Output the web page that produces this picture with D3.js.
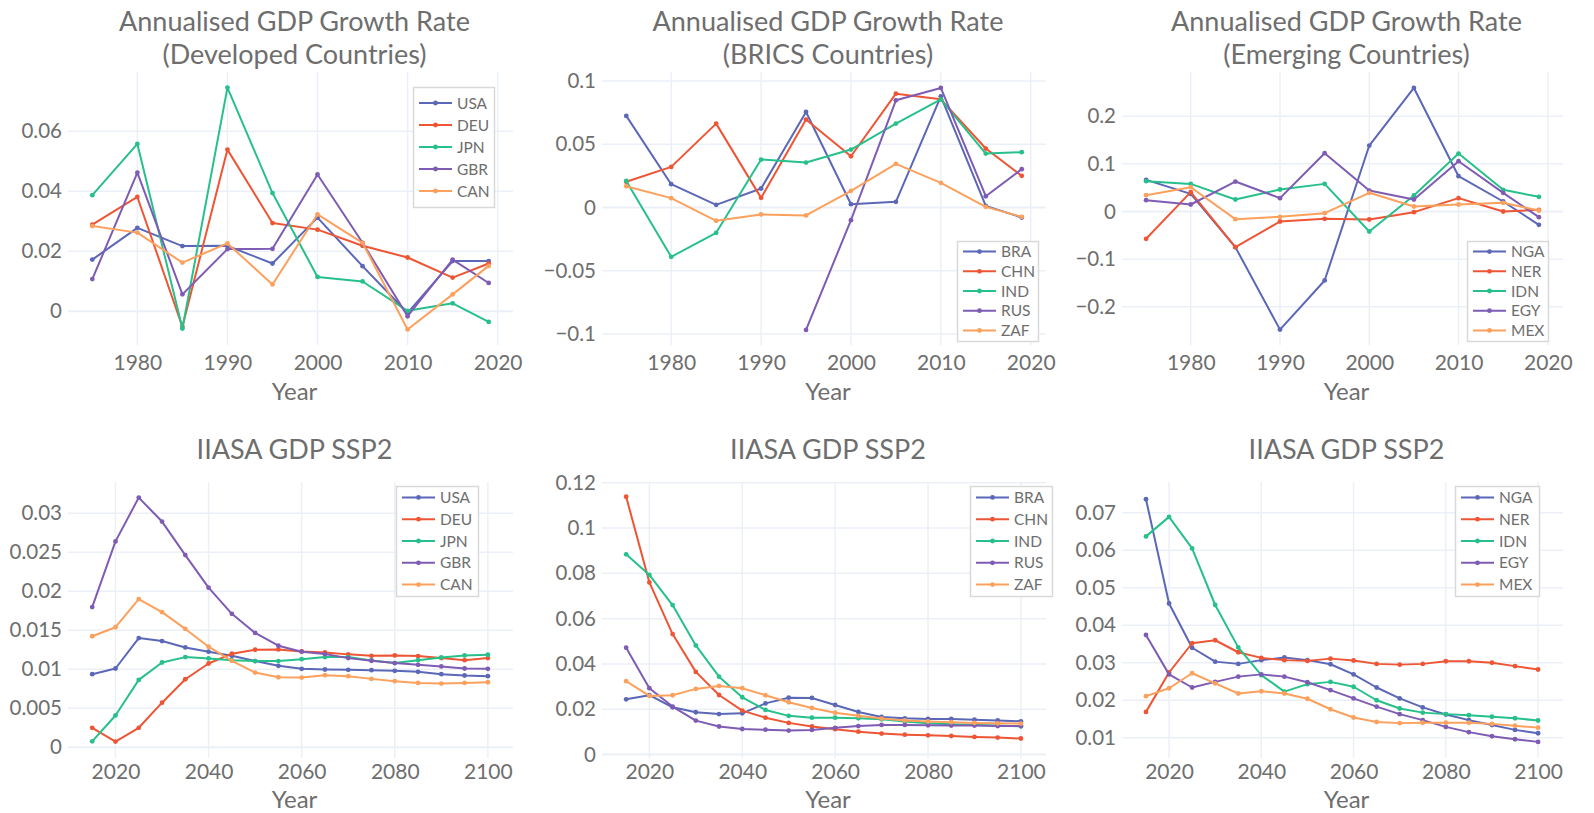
<!DOCTYPE html>
<html>
<head>
<meta charset="utf-8">
<script src="https://cdn.jsdelivr.net/npm/d3@7"></script>
<style>
  body { margin: 0; background: #fff; }
  svg { display: block; font-family: Lato, "Noto Sans", sans-serif; }
</style>
</head>
<body>
<div id="chart"></div>
<script>
// ---- data ----
const histYears = [1975, 1980, 1985, 1990, 1995, 2000, 2005, 2010, 2015, 2019];
const sspYears = [2015, 2020, 2025, 2030, 2035, 2040, 2045, 2050, 2055, 2060, 2065, 2070, 2075, 2080, 2085, 2090, 2095, 2100];

const devCodes = ["USA", "DEU", "JPN", "GBR", "CAN"];
const bricsCodes = ["BRA", "CHN", "IND", "RUS", "ZAF"];
const emgCodes = ["NGA", "NER", "IDN", "EGY", "MEX"];

// annualised growth, historical
const histUSA = [0.0172, 0.0278, 0.0217, 0.0218, 0.0159, 0.0312, 0.015, -0.0006, 0.0167, 0.0167];
const histDEU = [0.0289, 0.0381, -0.0052, 0.0539, 0.0294, 0.0272, 0.0218, 0.0179, 0.0112, 0.0159];
const histJPN = [0.0387, 0.0558, -0.0058, 0.0746, 0.0394, 0.0114, 0.0099, 0.0001, 0.0026, -0.0036];
const histGBR = [0.0107, 0.0462, 0.0056, 0.0207, 0.0208, 0.0456, 0.0228, -0.0017, 0.0172, 0.0094];
const histCAN = [0.0284, 0.0262, 0.0162, 0.0226, 0.0089, 0.0323, 0.0228, -0.0061, 0.0056, 0.0151];

const histBRA = [0.0724, 0.0184, 0.0021, 0.015, 0.0755, 0.0026, 0.0045, 0.0879, 0.0013, -0.0079];
const histCHN = [0.0203, 0.0321, 0.0663, 0.0076, 0.0695, 0.0405, 0.09, 0.0855, 0.0466, 0.025];
const histIND = [0.021, -0.039, -0.02, 0.0379, 0.0355, 0.0458, 0.0663, 0.0855, 0.0426, 0.0437];
const histRUS = [null, null, null, null, -0.0968, -0.01, 0.0847, 0.0945, 0.0089, 0.0303];
const histZAF = [0.0168, 0.0074, -0.0105, -0.0055, -0.0063, 0.0132, 0.0345, 0.0195, 0.0005, -0.0074];

const histNGA = [0.0664, 0.037, -0.0748, -0.248, -0.1448, 0.1385, 0.2594, 0.0741, 0.021, -0.028];
const histNER = [-0.0573, 0.0406, -0.0748, -0.021, -0.0154, -0.0168, -0.0014, 0.028, 0.0, 0.0035];
const histIDN = [0.0636, 0.058, 0.0252, 0.0462, 0.058, -0.042, 0.0336, 0.1217, 0.0455, 0.0308];
const histEGY = [0.0238, 0.0147, 0.0629, 0.028, 0.1224, 0.044, 0.0252, 0.1056, 0.0392, -0.0119];
const histMEX = [0.0343, 0.051, -0.0161, -0.0112, -0.0035, 0.0392, 0.0105, 0.0147, 0.0182, 0.0021];

// IIASA GDP SSP2 growth
const sspUSA = [0.00937, 0.0101, 0.014, 0.01362, 0.0128, 0.01225, 0.01173, 0.01105, 0.01044, 0.01006, 0.00997, 0.00993, 0.00989, 0.0098, 0.00967, 0.00937, 0.0092, 0.00911];
const sspDEU = [0.0025, 0.00073, 0.0025, 0.00572, 0.00872, 0.01074, 0.012, 0.0125, 0.01255, 0.01229, 0.01216, 0.01191, 0.01173, 0.01178, 0.01169, 0.01143, 0.01117, 0.01143];
const sspJPN = [0.00077, 0.00408, 0.00864, 0.01087, 0.01156, 0.01139, 0.01117, 0.01105, 0.01105, 0.0113, 0.01156, 0.01156, 0.01113, 0.01079, 0.01117, 0.01152, 0.01178, 0.01186];
const sspGBR = [0.01797, 0.02639, 0.032, 0.02893, 0.02463, 0.02046, 0.01711, 0.01466, 0.01302, 0.01225, 0.01195, 0.01143, 0.01109, 0.01079, 0.01057, 0.01036, 0.0101, 0.01006];
const sspCAN = [0.01423, 0.01539, 0.019, 0.01732, 0.01517, 0.01289, 0.01109, 0.00958, 0.00898, 0.00894, 0.00924, 0.00911, 0.00877, 0.00847, 0.00825, 0.00817, 0.00825, 0.00834];

const sspBRA = [0.0244, 0.0262, 0.0209, 0.0187, 0.0179, 0.0182, 0.0226, 0.0251, 0.025, 0.0219, 0.0188, 0.0166, 0.016, 0.0157, 0.0157, 0.0154, 0.0151, 0.0147];
const sspCHN = [0.1138, 0.076, 0.0532, 0.0365, 0.0263, 0.0194, 0.0163, 0.014, 0.0124, 0.0112, 0.0101, 0.0093, 0.0088, 0.0085, 0.0082, 0.0078, 0.0075, 0.0071];
const sspIND = [0.0884, 0.0793, 0.066, 0.0482, 0.0344, 0.0253, 0.0197, 0.0171, 0.0163, 0.0163, 0.016, 0.0156, 0.0146, 0.0138, 0.0134, 0.0131, 0.0128, 0.0125];
const sspRUS = [0.0472, 0.0293, 0.0212, 0.015, 0.0124, 0.0113, 0.011, 0.0106, 0.0109, 0.0118, 0.0126, 0.0131, 0.0131, 0.0129, 0.0128, 0.0128, 0.0126, 0.0126];
const sspZAF = [0.0324, 0.0259, 0.0262, 0.029, 0.0303, 0.0293, 0.0262, 0.0231, 0.0206, 0.0185, 0.0171, 0.0159, 0.0151, 0.0146, 0.0143, 0.014, 0.0138, 0.0137];

const sspNGA = [0.0736, 0.0458, 0.034, 0.0303, 0.0297, 0.0307, 0.0314, 0.0307, 0.0296, 0.0269, 0.0234, 0.0205, 0.0181, 0.0162, 0.0147, 0.0134, 0.0121, 0.0112];
const sspNER = [0.0169, 0.0274, 0.0352, 0.036, 0.0328, 0.0313, 0.0307, 0.0305, 0.0311, 0.0306, 0.0297, 0.0295, 0.0297, 0.0304, 0.0304, 0.03, 0.0291, 0.0282];
const sspIDN = [0.0637, 0.0689, 0.0605, 0.0454, 0.0341, 0.0267, 0.0223, 0.0243, 0.0249, 0.0236, 0.02, 0.0178, 0.0167, 0.0163, 0.016, 0.0156, 0.0152, 0.0146];
const sspEGY = [0.0374, 0.0269, 0.0234, 0.0249, 0.0263, 0.0269, 0.0263, 0.0248, 0.0227, 0.0205, 0.0183, 0.0163, 0.0147, 0.0129, 0.0115, 0.0104, 0.0096, 0.0089];
const sspMEX = [0.0211, 0.0232, 0.0272, 0.0245, 0.0218, 0.0224, 0.0218, 0.0204, 0.0176, 0.0154, 0.0142, 0.0139, 0.014, 0.014, 0.014, 0.0137, 0.0132, 0.0127];

// ticks
const histXTicks = [1980, 1990, 2000, 2010, 2020];
const sspXTicks = [2020, 2040, 2060, 2080, 2100];
const devYTicks = [0, 0.02, 0.04, 0.06];
const bricsYTicks = [-0.1, -0.05, 0, 0.05, 0.1];
const emgYTicks = [-0.2, -0.1, 0, 0.1, 0.2];
const devSspYTicks = [0, 0.005, 0.01, 0.015, 0.02, 0.025, 0.03];
const bricsSspYTicks = [0, 0.02, 0.04, 0.06, 0.08, 0.1, 0.12];
const emgSspYTicks = [0.01, 0.02, 0.03, 0.04, 0.05, 0.06, 0.07];

const colors = ["#5b67b7", "#ee5535", "#27c08a", "#7e5cb4", "#fca15d"];

// ---- layout ----
const W = 1594, H = 813;
const cols = [[68, 513], [602, 1046], [1122, 1563]];
const topRow = [72, 345], botRow = [482, 758];
const histXDomain = [1972.3, 2021.7], sspXDomain = [2009.8, 2105.4];

const panels = [
  { title: ["Annualised GDP Growth Rate", "(Developed Countries)"], col: 0, row: topRow, xd: histXDomain, yd: [-0.0113, 0.0798],
    years: histYears, codes: devCodes, series: [histUSA, histDEU, histJPN, histGBR, histCAN], xt: histXTicks, yt: devYTicks,
    legend: { x: 413, y: 87, w: 81, h: 120, gap: 22 } },
  { title: ["Annualised GDP Growth Rate", "(BRICS Countries)"], col: 1, row: topRow, xd: histXDomain, yd: [-0.1087, 0.1071],
    years: histYears, codes: bricsCodes, series: [histBRA, histCHN, histIND, histRUS, histZAF], xt: histXTicks, yt: bricsYTicks,
    legend: { x: 957, y: 241, w: 81, h: 100, gap: 19.7 } },
  { title: ["Annualised GDP Growth Rate", "(Emerging Countries)"], col: 2, row: topRow, xd: histXDomain, yd: [-0.2803, 0.2929],
    years: histYears, codes: emgCodes, series: [histNGA, histNER, histIDN, histEGY, histMEX], xt: histXTicks, yt: emgYTicks,
    legend: { x: 1467, y: 241, w: 81, h: 100, gap: 19.7 } },
  { title: ["IIASA GDP SSP2"], col: 0, row: botRow, xd: sspXDomain, yd: [-0.00137, 0.034],
    years: sspYears, codes: devCodes, series: [sspUSA, sspDEU, sspJPN, sspGBR, sspCAN], xt: sspXTicks, yt: devSspYTicks,
    legend: { x: 396, y: 486, w: 82, h: 110, gap: 21.8 } },
  { title: ["IIASA GDP SSP2"], col: 1, row: botRow, xd: sspXDomain, yd: [-0.0015, 0.1203],
    years: sspYears, codes: bricsCodes, series: [sspBRA, sspCHN, sspIND, sspRUS, sspZAF], xt: sspXTicks, yt: bricsSspYTicks,
    legend: { x: 970, y: 486, w: 82, h: 110, gap: 21.8 } },
  { title: ["IIASA GDP SSP2"], col: 2, row: botRow, xd: sspXDomain, yd: [0.0046, 0.0782],
    years: sspYears, codes: emgCodes, series: [sspNGA, sspNER, sspIDN, sspEGY, sspMEX], xt: sspXTicks, yt: emgSspYTicks,
    legend: { x: 1455, y: 486, w: 84, h: 110, gap: 21.8 } },
];

const svg = d3.select("#chart").append("svg").attr("width", W).attr("height", H);
const fmt = d3.format("~g");
const TEXT = "#6e6e6e";

function drawPanel(p) {
  const [x0, x1] = cols[p.col];
  const [y0, y1] = p.row;
  const isTop = p.row === topRow;
  const x = d3.scaleLinear().domain(p.xd).range([x0, x1]);
  const y = d3.scaleLinear().domain(p.yd).range([y1, y0]);
  const g = svg.append("g");

  // grid
  g.append("g").selectAll("line").data(p.xt).join("line")
    .attr("x1", (d) => x(d)).attr("x2", (d) => x(d))
    .attr("y1", y0).attr("y2", y1)
    .attr("stroke", "#ebf0f8").attr("stroke-width", 1.5);
  g.append("g").selectAll("line").data(p.yt).join("line")
    .attr("x1", x0).attr("x2", x1)
    .attr("y1", (d) => y(d)).attr("y2", (d) => y(d))
    .attr("stroke", "#ebf0f8").attr("stroke-width", (d) => (d === 0 ? 2 : 1.5));

  // axes (labels only)
  const xAxis = g.append("g").attr("transform", `translate(0,${y1})`)
    .call(d3.axisBottom(x).tickValues(p.xt).tickSize(0).tickPadding(isTop ? 10 : 6).tickFormat(d3.format("d")));
  const yAxis = g.append("g").attr("transform", `translate(${x0},0)`)
    .call(d3.axisLeft(y).tickValues(p.yt).tickSize(0).tickPadding(6).tickFormat(fmt));
  [xAxis, yAxis].forEach((a) => {
    a.select(".domain").remove();
    a.selectAll("text").attr("fill", TEXT).attr("font-family", "Lato, sans-serif");
  });
  xAxis.selectAll("text").attr("font-size", 21);
  yAxis.selectAll("text").attr("font-size", 20.5);

  // title
  const cx = (x0 + x1) / 2 + 4;
  const tBase = isTop ? 31 : 459;
  g.append("text").attr("text-anchor", "middle").attr("fill", TEXT).attr("font-size", 27)
    .selectAll("tspan").data(p.title).join("tspan")
    .attr("x", cx).attr("y", (d, i) => tBase + i * 32.5).text((d) => d);

  g.append("text").attr("x", cx).attr("y", isTop ? 399.5 : 807.5).attr("text-anchor", "middle")
    .attr("fill", TEXT).attr("font-size", 24).text("Year");

  // lines
  const line = d3.line().defined((d) => d[1] != null).x((d) => x(d[0])).y((d) => y(d[1]));
  p.series.forEach((vals, i) => {
    const pts = p.years.map((yr, k) => [yr, vals[k]]);
    g.append("path").datum(pts).attr("d", line)
      .attr("fill", "none").attr("stroke", colors[i]).attr("stroke-width", 2)
      .attr("stroke-linejoin", "round");
    g.append("g").selectAll("circle").data(pts.filter((d) => d[1] != null)).join("circle")
      .attr("cx", (d) => x(d[0])).attr("cy", (d) => y(d[1])).attr("r", 2.4)
      .attr("fill", colors[i]);
  });

  // legend
  const L = p.legend;
  const lg = g.append("g").attr("transform", `translate(${L.x},${L.y})`);
  lg.append("rect").attr("x", 0.5).attr("y", 0.5).attr("width", L.w).attr("height", L.h)
    .attr("fill", "rgba(255,255,255,0.9)").attr("stroke", "#d9d9d9").attr("stroke-width", 1.5);
  const first = (L.h - L.gap * 4) / 2;
  const items = lg.selectAll("g").data(p.codes).join("g")
    .attr("transform", (d, i) => `translate(0,${first + i * L.gap})`);
  items.append("line").attr("x1", 6).attr("x2", 39).attr("stroke", (d, i) => colors[i]).attr("stroke-width", 2);
  items.append("circle").attr("cx", 22.5).attr("r", 2.4).attr("fill", (d, i) => colors[i]);
  items.append("text").attr("x", 44).attr("dy", "0.36em").attr("fill", TEXT).attr("font-size", 15.5).text((d) => d);
}

panels.forEach(drawPanel);
</script>
</body>
</html>
